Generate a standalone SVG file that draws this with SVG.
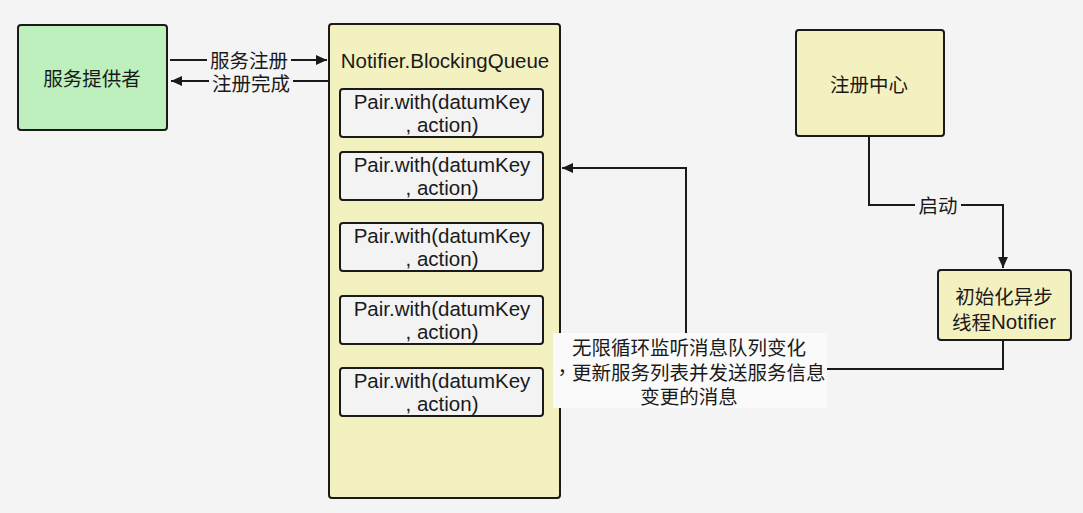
<svg xmlns="http://www.w3.org/2000/svg" width="1083" height="513" viewBox="0 0 1083 513">
<defs>
<marker id="arr" viewBox="0 0 10 10" refX="10" refY="5" markerWidth="11" markerHeight="11" markerUnits="userSpaceOnUse" orient="auto">
<path d="M0,0.5 L10,5 L0,9.5 z" fill="#1a1a1a"/>
</marker>
<style>
.box{stroke:#1a1a1a;stroke-width:2}
.t{font-family:"Noto Sans CJK SC","Liberation Sans",sans-serif;font-size:19.5px;fill:#1a1a1a;text-anchor:middle;dominant-baseline:central}
.e{font-family:"Liberation Sans","Noto Sans CJK SC",sans-serif;font-size:20.5px}
.l{fill:none;stroke:#1a1a1a;stroke-width:2}
.lbg{fill:#f4f4f4}
.pair{fill:#f3f3f3;stroke:#1a1a1a;stroke-width:2}
</style>
</defs>
<rect width="1083" height="513" fill="#f4f4f4"/>

<g id="provider">
<rect class="box" x="18" y="25" width="149" height="105" rx="3" fill="#bdf0bd"/>
<text class="t" x="92" y="77">服务提供者</text>
</g>

<g id="queue">
<rect class="box" x="329" y="24" width="231" height="474" rx="3" fill="#f4f1c1"/>
<text class="t e" x="445" y="60">Notifier.BlockingQueue</text>
</g>
<g id="pair1">
<rect class="pair" x="340" y="89" width="203" height="48" rx="3"/>
<text class="t e" x="442" y="101">Pair.with(datumKey</text>
<text class="t e" x="442" y="124">, action)</text>
</g>
<g id="pair2">
<rect class="pair" x="340" y="152" width="203" height="48" rx="3"/>
<text class="t e" x="442" y="164">Pair.with(datumKey</text>
<text class="t e" x="442" y="187">, action)</text>
</g>
<g id="pair3">
<rect class="pair" x="340" y="223" width="203" height="48" rx="3"/>
<text class="t e" x="442" y="235">Pair.with(datumKey</text>
<text class="t e" x="442" y="258">, action)</text>
</g>
<g id="pair4">
<rect class="pair" x="340" y="296" width="203" height="48" rx="3"/>
<text class="t e" x="442" y="308">Pair.with(datumKey</text>
<text class="t e" x="442" y="331">, action)</text>
</g>
<g id="pair5">
<rect class="pair" x="340" y="368" width="203" height="48" rx="3"/>
<text class="t e" x="442" y="380">Pair.with(datumKey</text>
<text class="t e" x="442" y="403">, action)</text>
</g>

<g id="registry">
<rect class="box" x="796" y="30" width="148" height="106" rx="3" fill="#f4f1c1"/>
<text class="t" x="869" y="83">注册中心</text>
</g>

<g id="notifier">
<rect class="box" x="938" y="270" width="133" height="70" rx="3" fill="#f4f1c1"/>
<text class="t" x="1004" y="295">初始化异步</text>
<text class="t" x="1004" y="321">线程<tspan class="e">Notifier</tspan></text>
</g>

<g id="connectors">
<path class="l" d="M170,60 H327" marker-end="url(#arr)"/>
<rect class="lbg" x="207" y="49" width="84" height="22"/>
<text class="t" x="249" y="59">服务注册</text>
<path class="l" d="M328,81 H171" marker-end="url(#arr)"/>
<rect class="lbg" x="209" y="71" width="84" height="21"/>
<text class="t" x="251" y="82">注册完成</text>

<path class="l" d="M869,136 V205 H1003 V268" marker-end="url(#arr)"/>
<rect class="lbg" x="915" y="194" width="46" height="22"/>
<text class="t" x="938" y="204">启动</text>

<path class="l" d="M1003,340 V369 H686 V168 H562" marker-end="url(#arr)"/>
<rect x="553" y="333" width="274" height="75" fill="#fafafa"/>
<text class="t" x="689" y="346">无限循环监听消息队列变化</text>
<text class="t" x="689" y="371"><tspan font-family="Noto Sans CJK TC">，</tspan>更新服务列表并发送服务信息</text>
<text class="t" x="689" y="395">变更的消息</text>
</g>
</svg>
